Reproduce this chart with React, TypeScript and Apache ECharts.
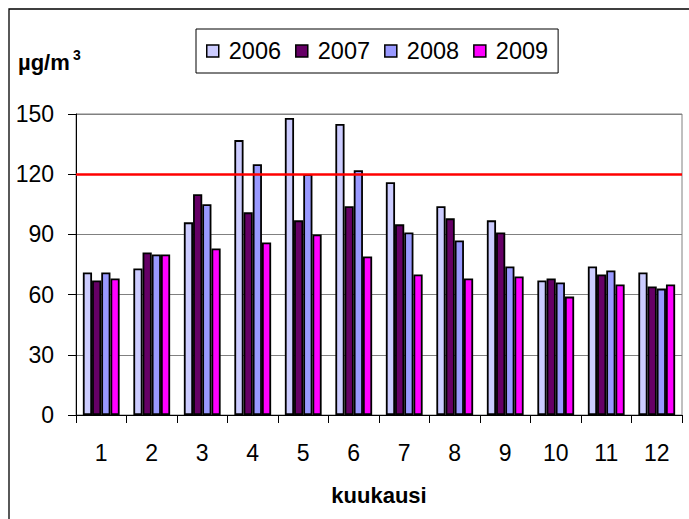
import React, { useEffect, useRef } from "react";
import * as echarts from "echarts";

const months = ["1", "2", "3", "4", "5", "6", "7", "8", "9", "10", "11", "12"];
const years = ["2006", "2007", "2008", "2009"];
const values2006 = [71, 73, 96, 137, 148, 145, 116, 104, 97, 67, 74, 71];
const values2007 = [67, 81, 110, 101, 97, 104, 95, 98, 91, 68, 70, 64];
const values2008 = [71, 80, 105, 125, 120, 122, 91, 87, 74, 66, 72, 63];
const values2009 = [68, 80, 83, 86, 90, 79, 70, 68, 69, 59, 65, 65];
const limitValue = 120;
const yTicks = { min: 0, max: 150, interval: 30 };
const colors = ["#CCCCFF", "#660066", "#9999FF", "#FF00FF"];

const FONT = "'Liberation Sans', Arial, sans-serif";

export default function App() {
  const ref = useRef<HTMLDivElement>(null);
  useEffect(() => {
    if (!ref.current) return;
    const chart = echarts.init(ref.current, null, { renderer: "svg" });
    const allValues = [values2006, values2007, values2008, values2009];
    const series: any[] = years.map((y, i) => ({
      name: y,
      type: "bar",
      data: allValues[i],
      barWidth: 9.2,
      barGap: "0%",
      itemStyle: { color: colors[i], borderColor: "#000", borderWidth: 1.8 },
      emphasis: { disabled: true },
    }));
    series[0].markLine = {
      silent: true,
      symbol: "none",
      label: { show: false },
      lineStyle: { color: "#FF0000", width: 2.5, type: "solid" },
      data: [{ yAxis: limitValue }],
    };
    chart.setOption({
      animation: false,
      textStyle: { fontFamily: FONT },
      grid: {
        left: 76,
        right: 7,
        top: 114,
        bottom: 104,
        show: true,
        borderColor: "#808080",
        borderWidth: 1,
        containLabel: false,
      },
      legend: {
        data: years,
        left: 196,
        top: 29,
        padding: [10, 10, 10, 10],
        itemGap: 14,
        itemWidth: 12,
        itemHeight: 12,
        icon: "rect",
        borderColor: "#000",
        borderWidth: 1,
        itemStyle: { borderColor: "#000", borderWidth: 1.5 },
        textStyle: { fontSize: 23.5, color: "#000", fontFamily: FONT, padding: [0, 0, 0, 5] },
        selectedMode: false,
      },
      xAxis: {
        type: "category",
        data: months,
        name: "kuukausi",
        nameLocation: "middle",
        nameGap: 69,
        nameTextStyle: { fontSize: 22, fontWeight: "bold", color: "#000", fontFamily: FONT },
        axisLine: { lineStyle: { color: "#000", width: 1 } },
        axisTick: { show: true, length: 8, lineStyle: { color: "#000" } },
        axisLabel: { fontSize: 23, color: "#000", margin: 26, fontFamily: FONT },
      },
      yAxis: {
        type: "value",
        min: yTicks.min,
        max: yTicks.max,
        interval: yTicks.interval,
        axisLine: { show: true, lineStyle: { color: "#000", width: 1 } },
        axisTick: { show: true, length: 8, lineStyle: { color: "#000" } },
        axisLabel: { fontSize: 23, color: "#000", margin: 22, fontFamily: FONT },
        splitLine: { show: true, lineStyle: { color: "#808080", width: 1 } },
      },
      graphic: [
        {
          type: "rect",
          shape: { x: 9, y: 9, width: 800, height: 600 },
          style: { fill: "none", stroke: "#000", lineWidth: 1.3 },
          silent: true,
        },
        {
          type: "text",
          x: 18,
          y: 62,
          style: {
            text: "µg/m",
            font: `bold 22px ${FONT}`,
            fill: "#000",
            verticalAlign: "middle",
          },
        },
        {
          type: "text",
          x: 73,
          y: 55,
          style: {
            text: "3",
            font: `bold 14px ${FONT}`,
            fill: "#000",
            verticalAlign: "middle",
          },
        },
      ],
      series,
    });
    return () => chart.dispose();
  }, []);
  return (
    <div
      ref={ref}
      style={{ position: "absolute", left: 0, top: 0, width: 689, height: 519, background: "#fff" }}
    />
  );
}
